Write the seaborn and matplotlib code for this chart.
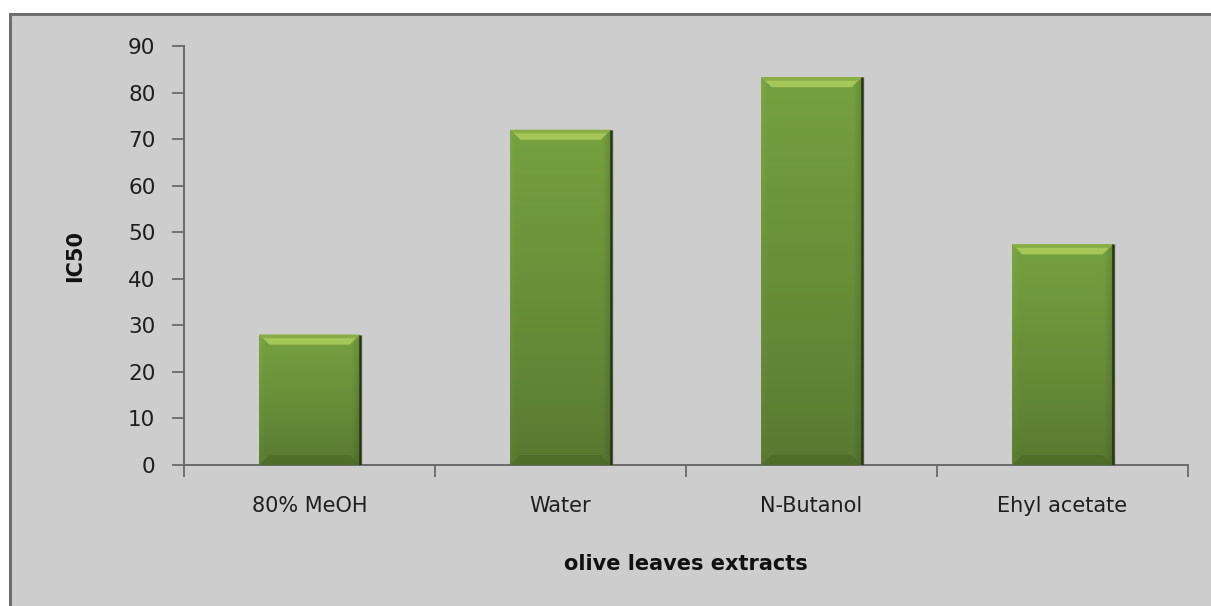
import numpy as np
import pandas as pd
import matplotlib
matplotlib.use("Agg")
import matplotlib.pyplot as plt
from matplotlib.patches import Rectangle, Polygon
import seaborn as sns

# IC50 of olive leaf extracts
extracts = ["80% MeOH", "Water", "N-Butanol", "Ehyl acetate"]
ic50 = [28.0, 72.0, 83.3, 47.4]
y_ticks = [0, 10, 20, 30, 40, 50, 60, 70, 80, 90]

df = pd.DataFrame({"extract": extracts, "ic50": ic50})

sns.set_theme(style="white")
plt.rcParams["font.family"] = ["DejaVu Sans"]

W, H, DPI = 1211, 606, 100
fig = plt.figure(figsize=(W / DPI, H / DPI), dpi=DPI, facecolor="white")

# grey chart area with a dark frame on the left and top
frame = Rectangle((10 / W, -0.05), 1.1, 0.05 + 1 - 14 / H, transform=fig.transFigure,
                  facecolor="#cdcdcd", edgecolor="#6e6e6e", linewidth=2.2, zorder=-10)
fig.patches.append(frame)

ax = fig.add_axes([184 / W, 141 / H, (1188 - 184) / W, (465 - 46) / H])
ax.set_facecolor("none")

sns.barplot(data=df, x="extract", y="ic50", color="#6f963c", width=0.40,
            edgecolor="none", ax=ax, zorder=2)

ax.set_ylim(0, 90)
ax.set_xlim(-0.5, len(extracts) - 0.5)
ax.set_yticks(y_ticks)
ax.set_yticklabels([str(t) for t in y_ticks], fontsize=15.5, color="#1e1e1e")
ax.tick_params(axis="y", direction="out", length=8.6, width=1.3, color="#6a6a6a", pad=12, left=True)
ax.set_xticks(range(len(extracts)))
ax.set_xticklabels(extracts, fontsize=15, color="#1e1e1e")
ax.tick_params(axis="x", which="major", length=0, pad=22)
ax.set_xticks(np.arange(-0.5, len(extracts), 1.0), minor=True)
ax.tick_params(axis="x", which="minor", direction="out", length=8.6, width=1.3,
               color="#6a6a6a", bottom=True)

for side in ["top", "right"]:
    ax.spines[side].set_visible(False)
for side in ["left", "bottom"]:
    ax.spines[side].set_color("#6a6a6a")
    ax.spines[side].set_linewidth(1.4)

ax.set_ylabel("IC50", fontsize=15, fontweight="bold", color="#111111")
ax.yaxis.set_label_coords((85 - 184) / 1004, 0.5)
ax.set_xlabel("olive leaves extracts", fontsize=15, fontweight="bold", color="#111111")
ax.xaxis.set_label_coords(0.5, (465 - 554) / 419)

# shaded, bevelled bars
fig.canvas.draw()
px_per_y = ax.transData.transform((0, 1))[1] - ax.transData.transform((0, 0))[1]
bevel_y = 10.0 / px_per_y
v = np.linspace(0, 1, 256)[:, None]
u = np.linspace(0, 1, 64)[None, :]
top_c = np.array([0.46, 0.63, 0.25])
bot_c = np.array([0.34, 0.47, 0.19])
for p in list(ax.patches):
    x0, y0 = p.get_x(), p.get_y()
    w, h = p.get_width(), p.get_height()
    # vertical shading: lighter near the top, darker towards the base
    t = (v ** 0.8)[..., None]
    img = bot_c * (1 - t) + top_c * t
    img = np.repeat(img, 64, axis=1)
    side = (1 - 0.12 * np.clip((u - 0.92) / 0.08, 0, 1)
            + 0.04 * np.clip((0.06 - u) / 0.06, 0, 1))[..., None]
    img = np.clip(img * side, 0, 1)
    im = ax.imshow(img, extent=[x0, x0 + w, y0, y0 + h], origin="lower",
                   aspect="auto", zorder=3, interpolation="bilinear")
    im.set_clip_path(p)
    bx = w * 0.10
    top = y0 + h
    ax.add_patch(Polygon([(x0, top), (x0 + w, top), (x0 + w - bx, top - bevel_y),
                          (x0 + bx, top - bevel_y)], closed=True,
                         facecolor="#a5c658", edgecolor="none", zorder=4))
    ax.add_patch(Polygon([(x0, top), (x0 + w, top), (x0 + w - bx * 0.35, top - bevel_y * 0.35),
                          (x0 + bx * 0.35, top - bevel_y * 0.35)], closed=True,
                         facecolor="#8aad45", edgecolor="none", zorder=4))
    ax.add_patch(Polygon([(x0, y0), (x0 + w, y0), (x0 + w - bx, y0 + bevel_y),
                          (x0 + bx, y0 + bevel_y)], closed=True,
                         facecolor="#4a6726", edgecolor="none", zorder=4, alpha=0.6))
    ax.plot([x0 + w, x0 + w], [y0, top], color="#263512", linewidth=1.8, zorder=5,
            solid_capstyle="butt")
    ax.add_patch(Rectangle((x0 + w, y0), w * 0.03, h, facecolor="#a8a8a8",
                           edgecolor="none", zorder=1, alpha=0.5))

ax.set_xlim(-0.5, len(extracts) - 0.5)
ax.set_ylim(0, 90)

fig.savefig("out.png", dpi=DPI, facecolor="white")
